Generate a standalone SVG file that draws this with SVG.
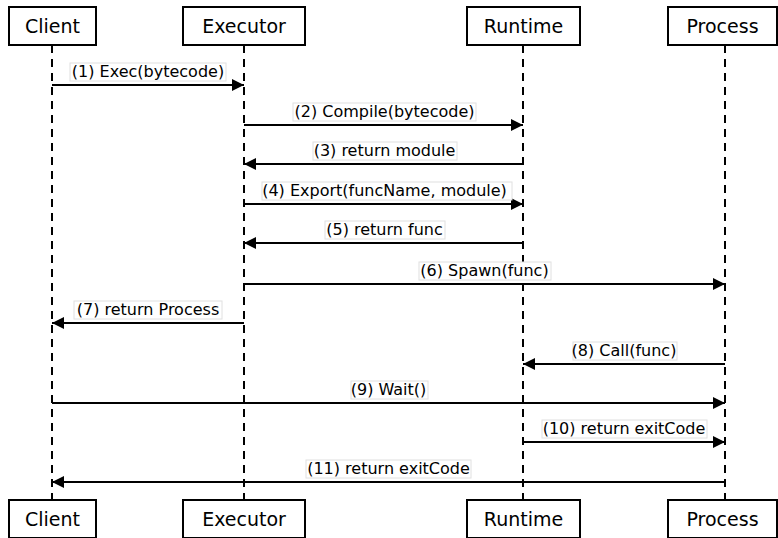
<svg xmlns="http://www.w3.org/2000/svg" width="778" height="538" viewBox="0 0 778 538">
<style>
.box{fill:#fff;stroke:#000;stroke-width:2}
.bt{font-family:"DejaVu Sans",sans-serif;font-size:19px;text-anchor:middle;fill:#000}
.life{stroke:#000;stroke-width:2;stroke-dasharray:8,6;fill:none}
.msg{stroke:#000;stroke-width:2;fill:none}
.lbg{fill:#fff;stroke:#e0e0e0;stroke-width:1}
.lt{font-family:"DejaVu Sans",sans-serif;font-size:16px;text-anchor:middle;fill:#000}
</style>
<defs>
<marker id="ah" viewBox="0 0 12 12" refX="12" refY="6" markerWidth="12" markerHeight="12" markerUnits="userSpaceOnUse" orient="auto">
<path d="M0,0 L12,6 L0,12 Z" fill="#000"/>
</marker>
</defs>
<g id="lifelines">
<line class="life" x1="52" y1="45" x2="52" y2="500"/>
<line class="life" x1="244" y1="45" x2="244" y2="500"/>
<line class="life" x1="523" y1="45" x2="523" y2="500"/>
<line class="life" x1="725" y1="45" x2="725" y2="500"/>
</g>
<g id="client-top"><rect class="box" x="9" y="7" width="87" height="38"/><text class="bt" x="52.5" y="33">Client</text></g>
<g id="executor-top"><rect class="box" x="183" y="7" width="122" height="38"/><text class="bt" x="244" y="33">Executor</text></g>
<g id="runtime-top"><rect class="box" x="467" y="7" width="113" height="38"/><text class="bt" x="523.5" y="33">Runtime</text></g>
<g id="process-top"><rect class="box" x="668" y="7" width="109" height="38"/><text class="bt" x="722.5" y="33">Process</text></g>
<g id="client-bottom"><rect class="box" x="9" y="500" width="87" height="38"/><text class="bt" x="52.5" y="526">Client</text></g>
<g id="executor-bottom"><rect class="box" x="183" y="500" width="122" height="38"/><text class="bt" x="244" y="526">Executor</text></g>
<g id="runtime-bottom"><rect class="box" x="467" y="500" width="113" height="38"/><text class="bt" x="523.5" y="526">Runtime</text></g>
<g id="process-bottom"><rect class="box" x="668" y="500" width="109" height="38"/><text class="bt" x="722.5" y="526">Process</text></g>
<g id="connectors">
<line class="msg" x1="52" y1="85" x2="244" y2="85" marker-end="url(#ah)"/>
<rect class="lbg" x="70" y="63" width="156" height="18"/><text class="lt" x="148" y="77">(1) Exec(bytecode)</text>
<line class="msg" x1="244" y1="125" x2="523" y2="125" marker-end="url(#ah)"/>
<rect class="lbg" x="293" y="103" width="183" height="18"/><text class="lt" x="384.5" y="117">(2) Compile(bytecode)</text>
<line class="msg" x1="523" y1="164" x2="244" y2="164" marker-end="url(#ah)"/>
<rect class="lbg" x="313" y="142" width="144" height="18"/><text class="lt" x="384.5" y="156">(3) return module</text>
<line class="msg" x1="244" y1="204" x2="523" y2="204" marker-end="url(#ah)"/>
<rect class="lbg" x="262" y="182" width="250" height="18"/><text class="lt" x="384.5" y="196">(4) Export(funcName, module)</text>
<line class="msg" x1="523" y1="243" x2="244" y2="243" marker-end="url(#ah)"/>
<rect class="lbg" x="325" y="221" width="120" height="18"/><text class="lt" x="384.5" y="235">(5) return func</text>
<line class="msg" x1="244" y1="284" x2="725" y2="284" marker-end="url(#ah)"/>
<rect class="lbg" x="419" y="262" width="132" height="18"/><text class="lt" x="484.5" y="276">(6) Spawn(func)</text>
<line class="msg" x1="244" y1="323" x2="52" y2="323" marker-end="url(#ah)"/>
<rect class="lbg" x="74" y="301" width="148" height="18"/><text class="lt" x="148" y="315">(7) return Process</text>
<line class="msg" x1="725" y1="364" x2="523" y2="364" marker-end="url(#ah)"/>
<rect class="lbg" x="573" y="342" width="104" height="18"/><text class="lt" x="624" y="356">(8) Call(func)</text>
<line class="msg" x1="52" y1="403" x2="725" y2="403" marker-end="url(#ah)"/>
<rect class="lbg" x="351" y="381" width="77" height="18"/><text class="lt" x="388.5" y="395">(9) Wait()</text>
<line class="msg" x1="523" y1="442" x2="725" y2="442" marker-end="url(#ah)"/>
<rect class="lbg" x="542" y="420" width="165" height="18"/><text class="lt" x="624" y="434">(10) return exitCode</text>
<line class="msg" x1="725" y1="482" x2="52" y2="482" marker-end="url(#ah)"/>
<rect class="lbg" x="306" y="460" width="165" height="18"/><text class="lt" x="388.5" y="474">(11) return exitCode</text>
</g>
</svg>
